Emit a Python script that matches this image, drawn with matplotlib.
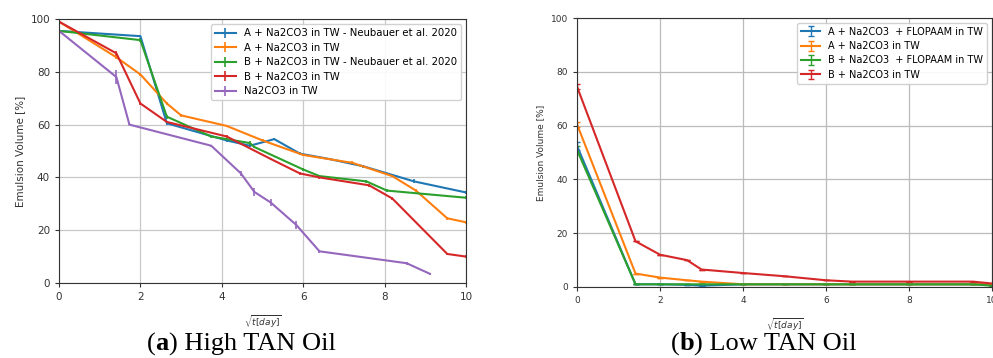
import numpy as np
import matplotlib.pyplot as plt

# (a) High TAN oil
xa_blue = [0, 2, 2.65, 4.12, 4.69, 5.29, 5.92, 6.63, 7.48, 8.72, 10]
ya_blue = [95.5, 93.5, 60.5, 54, 52, 54.5, 49, 47, 44.2, 38.5, 34.3]
ea_blue = [0.5, 0.5, 0.5, 0.5, 0.5, 0.5, 0.5, 0.5, 0.5, 0.8, 0.5]

xa_orange = [0, 1.41, 2, 2.65, 3, 4.12, 5, 6, 7.21, 8.19, 8.77, 9.54, 10]
ya_orange = [99, 85.5, 79, 68, 63.5, 59.5, 54, 48.5, 45.5, 40.5, 35, 24.5, 23]
ea_orange = [0.5, 0.5, 0.5, 0.5, 0.5, 0.5, 0.5, 0.5, 0.8, 0.5, 0.5, 0.5, 0.5]

xa_green = [0, 2, 2.65, 3.74, 4.12, 4.69, 4.8, 6, 6.4, 7.55, 8.06, 10]
ya_green = [95.5, 92, 63, 55.5, 54.5, 53, 51.5, 43, 40.5, 38.5, 35, 32.3]
ea_green = [0.5, 0.8, 0.8, 0.5, 0.5, 0.8, 0.5, 0.5, 0.5, 0.5, 0.5, 0.5]

xa_red = [0, 1.41, 2, 2.65, 4.12, 5.2, 5.92, 6.4, 7.62, 8.19, 9.54, 10]
ya_red = [99, 87, 68, 61, 55.5, 47, 41.5, 40, 37, 32, 11, 10]
ea_red = [0.5, 1, 0.5, 0.5, 0.5, 0.5, 0.5, 0.5, 0.5, 0.5, 0.5, 0.5]

xa_purple = [0, 1.41, 1.73, 3.74, 4.47, 4.8, 5.2, 5.83, 6.4, 8.54, 9.11]
ya_purple = [95.5, 78, 60, 52, 41.5, 34.5, 30.5, 22, 12, 7.5, 3.5]
ea_purple = [0.5, 2.5, 0.3, 0.3, 1, 1.5, 1.2, 1.5, 0.5, 0.5, 0.3]

labels_a = ['A + Na2CO3 in TW - Neubauer et al. 2020', 'A + Na2CO3 in TW',
            'B + Na2CO3 in TW - Neubauer et al. 2020', 'B + Na2CO3 in TW',
            'Na2CO3 in TW']

# (b) Low TAN oil
xb = [0, 1.41, 2, 2.65, 3, 4, 5, 6, 6.63, 8, 9.54, 10]
yb_blue = [52.5, 1, 1, 0.8, 0.5, 1, 1, 1, 1, 1, 1, 1]
yb_orange = [60.5, 5, 3.5, 2.5, 2, 1, 1, 1, 1, 1, 1, 1]
yb_green = [51, 1, 1, 1, 1, 1, 1, 1, 1, 1, 1, 0.5]
yb_red = [74.5, 17, 12, 10, 6.5, 5.2, 4, 2.5, 2, 2, 2, 1.3]
eb_blue = [1.5, 0, 0, 0, 0, 0, 0, 0, 0, 0, 0, 0]
eb_orange = [1, 0, 0, 0, 0, 0, 0, 0, 0, 0, 0, 0]
eb_green = [1.5, 0, 0, 0, 0, 0, 0, 0, 0, 0, 0, 0]
eb_red = [1, 0, 0, 0, 0, 0, 0, 0, 0, 0, 0, 0]

labels_b = ['A + Na2CO3  + FLOPAAM in TW', 'A + Na2CO3 in TW',
            'B + Na2CO3  + FLOPAAM in TW', 'B + Na2CO3 in TW']

colors = ['tab:blue', 'tab:orange', 'tab:green', 'tab:red', 'tab:purple']

fig = plt.figure(figsize=(9.93, 3.58), dpi=100)
W, H = 993, 358
ax1 = fig.add_axes([59 / W, (H - 283) / H, (466 - 59) / W, (283 - 19) / H])
ax2 = fig.add_axes([577 / W, (H - 287) / H, (992 - 577) / W, (287 - 18) / H])

series_a = [(xa_blue, ya_blue, ea_blue), (xa_orange, ya_orange, ea_orange),
            (xa_green, ya_green, ea_green), (xa_red, ya_red, ea_red),
            (xa_purple, ya_purple, ea_purple)]
for (x, y, e), c, lab in zip(series_a, colors, labels_a):
    ax1.errorbar(x, y, yerr=e, color=c, lw=1.5, elinewidth=1.2, label=lab)

series_b = [(yb_blue, eb_blue), (yb_orange, eb_orange), (yb_green, eb_green), (yb_red, eb_red)]
for (y, e), c, lab in zip(series_b, colors, labels_b):
    ax2.errorbar(xb, y, yerr=e, color=c, lw=1.5, elinewidth=1, capsize=2, ecolor=c,
                 label=lab)

for ax, fs, lfs, gc in [(ax1, 7.5, 7.3, '#c8c8c8'), (ax2, 6.5, 7, '#bbbbbb')]:
    ax.set_xlim(0, 10)
    ax.set_ylim(0, 100)
    ax.set_xticks(range(0, 11, 2))
    ax.set_yticks(range(0, 101, 20))
    ax.grid(True, color=gc, lw=0.9)
    ax.set_axisbelow(True)
    ax.tick_params(labelsize=fs, length=3, color='#333333', labelcolor='#333333')
    ax.set_ylabel('Emulsion Volume [%]', fontsize=fs, color='#333333', labelpad=4)
    ax.set_xlabel(r'$\sqrt{t[day]}$', fontsize=6.5, color='#333333', labelpad=8)
    for s in ax.spines.values():
        s.set_color('#333333')
    ax.legend(loc='upper right', fontsize=lfs, framealpha=0.9, edgecolor='#cccccc',
              handlelength=2, borderpad=0.4, labelspacing=0.45)

# captions with bold letter
renderer = fig.canvas.get_renderer()
def caption(xc, yc, letter, rest):
    parts = [('(', 'normal'), (letter, 'bold'), (') ' + rest, 'normal')]
    texts = []
    total = 0
    for s, w in parts:
        t = fig.text(0, yc / H, s, fontsize=19, fontweight=w, family='Liberation Serif',
                     va='center', ha='left')
        bb = t.get_window_extent(renderer)
        texts.append((t, bb.width))
        total += bb.width
    x = xc - total / 2
    for t, w in texts:
        t.set_x(x / W)
        x += w

caption(241, H - 344, 'a', 'High TAN Oil')
caption(764, H - 344, 'b', 'Low TAN Oil')

fig.savefig('out.png', dpi=100)
